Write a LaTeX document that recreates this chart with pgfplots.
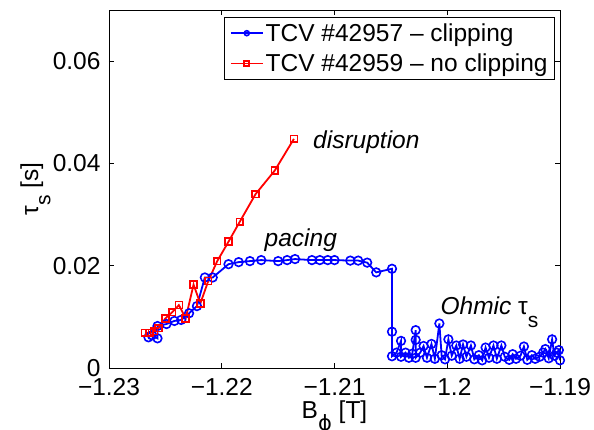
\documentclass[border=0pt]{standalone}
\usepackage{fontspec}
\setmainfont{Liberation Sans}
\newfontfamily\djv{DejaVu Sans}
\usepackage{pgfplots}
\pgfplotsset{compat=1.18}

% MATLAB-like subscript: nearly full size, lowered a lot
\newcommand{\sub}[1]{\raisebox{-0.5em}{\fontsize{21}{21}\selectfont #1}}

\begin{document}
\begin{tikzpicture}
\useasboundingbox (-109pt,-62pt) rectangle (485pt,368pt);
\begin{axis}[
    scale only axis,
    width=451pt, height=358pt,
    xmin=-1.23, xmax=-1.19, ymin=0, ymax=0.07,
    xtick={-1.23,-1.22,-1.21,-1.2,-1.19},
    xticklabels={−1.23,−1.22,−1.21,−1.2,−1.19},
    ytick={0,0.02,0.04,0.06},
    yticklabels={0,0.02,0.04,0.06},
    tick align=inside, tick pos=both,
    xticklabel pos=bottom, yticklabel pos=left,
    major tick length=5pt,
    axis line style={line width=0.8pt},
    every tick/.style={black, line width=0.8pt},
    ticklabel style={font=\fontsize{24.5}{24.5}\selectfont},
    xticklabel style={yshift=-7pt},
    yticklabel style={xshift=-5pt},
    label style={font=\fontsize{24.5}{24.5}\selectfont},
    xlabel={B\sub{\djv ϕ} [T]},
    ylabel={τ\sub{s} [s]},
    xlabel style={at={(axis description cs:0.5,-0.1397)}, anchor=base},
    ylabel style={at={(axis description cs:-0.157,0.5)}, anchor=base},
    legend cell align=left,
    legend style={at={(axis description cs:0.989,0.98)}, anchor=north east,
        draw=black, line width=0.8pt, inner xsep=5pt, inner ysep=4pt,
        row sep=7pt,
        font=\fontsize{24.5}{28}\selectfont},
    legend image code/.code={
        \draw[mark repeat=2, mark phase=2, #1, mark size=2.5pt]
        plot coordinates {(0pt,0pt) (16pt,0pt) (32pt,0pt)};},
]

\addplot[blue, line width=1.8pt, mark=o, mark size=4.3pt,
    mark options={blue, line width=1.6pt}] coordinates {
(-1.2265,0.0060) (-1.2262,0.0064) (-1.2257,0.0058) (-1.2257,0.0082)
(-1.2249,0.0086) (-1.2242,0.0092) (-1.2236,0.0094) (-1.2229,0.0107)
(-1.2222,0.0121) (-1.2215,0.0177) (-1.2208,0.0177) (-1.2194,0.0203)
(-1.2185,0.0207) (-1.2175,0.0209) (-1.2165,0.0211) (-1.2150,0.0209)
(-1.2142,0.0211) (-1.2135,0.0213) (-1.2120,0.0211) (-1.2113,0.0211)
(-1.2106,0.0211) (-1.2100,0.0211) (-1.2086,0.0210) (-1.2079,0.0210)
(-1.2071,0.0206) (-1.2063,0.0187) (-1.2049,0.0194)
(-1.2049,0.0071) (-1.2049,0.0023) (-1.2045,0.0030) (-1.2041,0.0053)
(-1.2041,0.0022) (-1.2037,0.0030) (-1.2034,0.0020) (-1.2031,0.0028)
(-1.2028,0.0074) (-1.2028,0.0055) (-1.2028,0.0020) (-1.2024,0.0030)
(-1.2021,0.0043) (-1.2018,0.0020) (-1.2014,0.0047) (-1.2011,0.0018)
(-1.2007,0.0087) (-1.2005,0.0025) (-1.2002,0.0017) (-1.1999,0.0056)
(-1.1996,0.0024) (-1.1992,0.0044) (-1.1989,0.0018) (-1.1986,0.0046)
(-1.1983,0.0022) (-1.1979,0.0044) (-1.1976,0.0017) (-1.1972,0.0025)
(-1.1969,0.0015) (-1.1966,0.0040) (-1.1963,0.0020) (-1.1959,0.0044)
(-1.1956,0.0018) (-1.1952,0.0044) (-1.1949,0.0022) (-1.1945,0.0016)
(-1.1942,0.0027) (-1.1939,0.0018) (-1.1935,0.0024) (-1.1932,0.0042)
(-1.1929,0.0016) (-1.1925,0.0025) (-1.1922,0.0018) (-1.1918,0.0022)
(-1.1915,0.0030) (-1.1913,0.0037) (-1.1910,0.0019) (-1.1907,0.0056)
(-1.1905,0.0024) (-1.1903,0.0030) (-1.1901,0.0035) (-1.1900,0.0015)
};
\addlegendentry{TCV \#42957 – clipping}

\addplot[red, line width=1.8pt, mark=square, mark size=3.4pt,
    mark options={red, line width=1.6pt}] coordinates {
(-1.2268,0.0069) (-1.2264,0.0069) (-1.2260,0.0072) (-1.2256,0.0078)
(-1.2250,0.0097) (-1.2244,0.0109) (-1.2238,0.0123) (-1.2232,0.0097)
(-1.2225,0.0163) (-1.2219,0.0126) (-1.2212,0.0170) (-1.2204,0.0209)
(-1.2194,0.0247) (-1.2184,0.0286) (-1.2170,0.0340) (-1.2153,0.0386)
(-1.2136,0.0448)
};
\addlegendentry{TCV \#42959 – no clipping}

\node[anchor=base west, font=\fontsize{24.5}{24.5}\selectfont\itshape]
    at (axis cs:-1.2122,0.0430) {disruption};
\node[anchor=base west, font=\fontsize{24.5}{24.5}\selectfont\itshape]
    at (axis cs:-1.2165,0.0237) {pacing};
\node[anchor=base west, font=\fontsize{24.5}{24.5}\selectfont]
    at (axis cs:-1.2009,0.0104) {\textit{Ohmic} τ\sub{s}};
\end{axis}
\end{tikzpicture}
\end{document}
